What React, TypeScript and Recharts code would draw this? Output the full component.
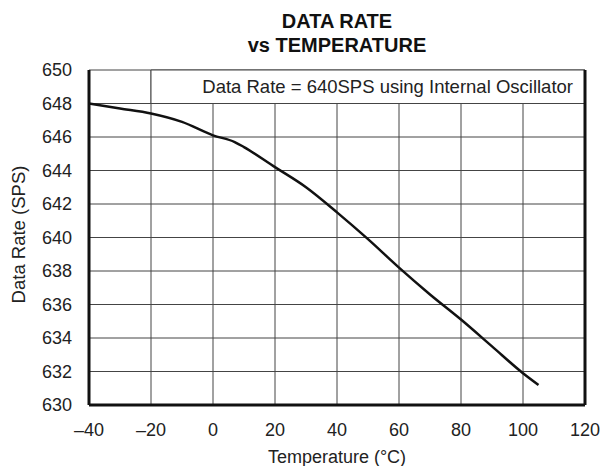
import { LineChart, Line, XAxis, YAxis, CartesianGrid, ReferenceArea } from 'recharts'

const temps = [-40, -30, -20, -10, 0, 7, 10, 20, 30, 40, 50, 60, 70, 80, 90, 100, 105]
const rates = [648.0, 647.7, 647.4, 646.9, 646.1, 645.7, 645.4, 644.2, 643.0, 641.5, 639.9, 638.2, 636.6, 635.1, 633.5, 631.9, 631.2]

const xTicks = [-40, -20, 0, 20, 40, 60, 80, 100, 120]
const yTicks = [630, 632, 634, 636, 638, 640, 642, 644, 646, 648, 650]

const note = 'Data Rate = 640SPS using Internal Oscillator'

const data = temps.map((t, i) => ({ t, rate: rates[i] }))

const font = '"Liberation Sans", Arial, sans-serif'
const tickStyle = { fontSize: 18, fill: '#222', fontFamily: font }

function fmtX(v: number) {
  return v < 0 ? `\u2013${-v}` : `${v}`
}

export default function App() {
  return (
    <div style={{ position: 'absolute', left: 0, top: 0, width: 602, height: 466, background: '#fff' }}>
      <LineChart width={602} height={466} data={data} margin={{ top: 70, right: 0, bottom: 0, left: 0 }}>
        <CartesianGrid stroke="#444" strokeWidth={1} />
        <ReferenceArea
          x1={-20}
          x2={120}
          y1={648}
          y2={650}
          fill="#fff"
          fillOpacity={1}
          stroke="#444"
          strokeWidth={1}
          label={{ value: note, position: 'insideRight', offset: 12, fontSize: 18.5, fill: '#222', fontFamily: font }}
        />
        <XAxis
          dataKey="t"
          type="number"
          domain={[-40, 120]}
          ticks={xTicks}
          tickFormatter={fmtX}
          tick={tickStyle}
          tickSize={0}
          tickMargin={18}
          height={61}
          axisLine={{ stroke: '#111', strokeWidth: 3 }}
          label={{
            content: (p: any) => (
              <text
                x={p.viewBox.x + p.viewBox.width / 2}
                y={p.viewBox.y + 58}
                textAnchor="middle"
                fontSize={18}
                fill="#222"
                fontFamily={font}
              >
                Temperature (°C)
              </text>
            ),
          }}
        />
        <XAxis
          xAxisId="top"
          dataKey="t"
          type="number"
          orientation="top"
          domain={[-40, 120]}
          ticks={xTicks}
          tickFormatter={() => ''}
          mirror
          tickSize={5}
          tickLine={{ stroke: '#444' }}
          height={0}
          axisLine={{ stroke: '#111', strokeWidth: 3 }}
        />
        <YAxis
          type="number"
          domain={[630, 650]}
          ticks={yTicks}
          tick={tickStyle}
          tickSize={0}
          tickMargin={17}
          width={89}
          axisLine={{ stroke: '#111', strokeWidth: 3 }}
          label={{
            content: (p: any) => {
              const cx = p.viewBox.x + 18
              const cy = p.viewBox.y + p.viewBox.height / 2 - 3
              return (
                <text
                  x={cx}
                  y={cy}
                  transform={`rotate(-90 ${cx} ${cy})`}
                  textAnchor="middle"
                  dominantBaseline="central"
                  fontSize={18.5}
                  fill="#222"
                  fontFamily={font}
                >
                  Data Rate (SPS)
                </text>
              )
            },
          }}
        />
        <YAxis
          yAxisId="right"
          orientation="right"
          type="number"
          domain={[630, 650]}
          ticks={yTicks}
          tick={false}
          tickLine={false}
          width={17}
          axisLine={{ stroke: '#111', strokeWidth: 3 }}
        />
        <Line
          type="monotone"
          dataKey="rate"
          stroke="#111"
          strokeWidth={2.5}
          dot={false}
          isAnimationActive={false}
        />
      </LineChart>
      <div
        style={{
          position: 'absolute',
          left: 89,
          width: 496,
          top: 9,
          textAlign: 'center',
          fontFamily: font,
          fontWeight: 'bold',
          fontSize: 20,
          lineHeight: '24px',
          color: '#111',
        }}
      >
        DATA RATE
        <br />
        vs TEMPERATURE
      </div>
    </div>
  )
}
